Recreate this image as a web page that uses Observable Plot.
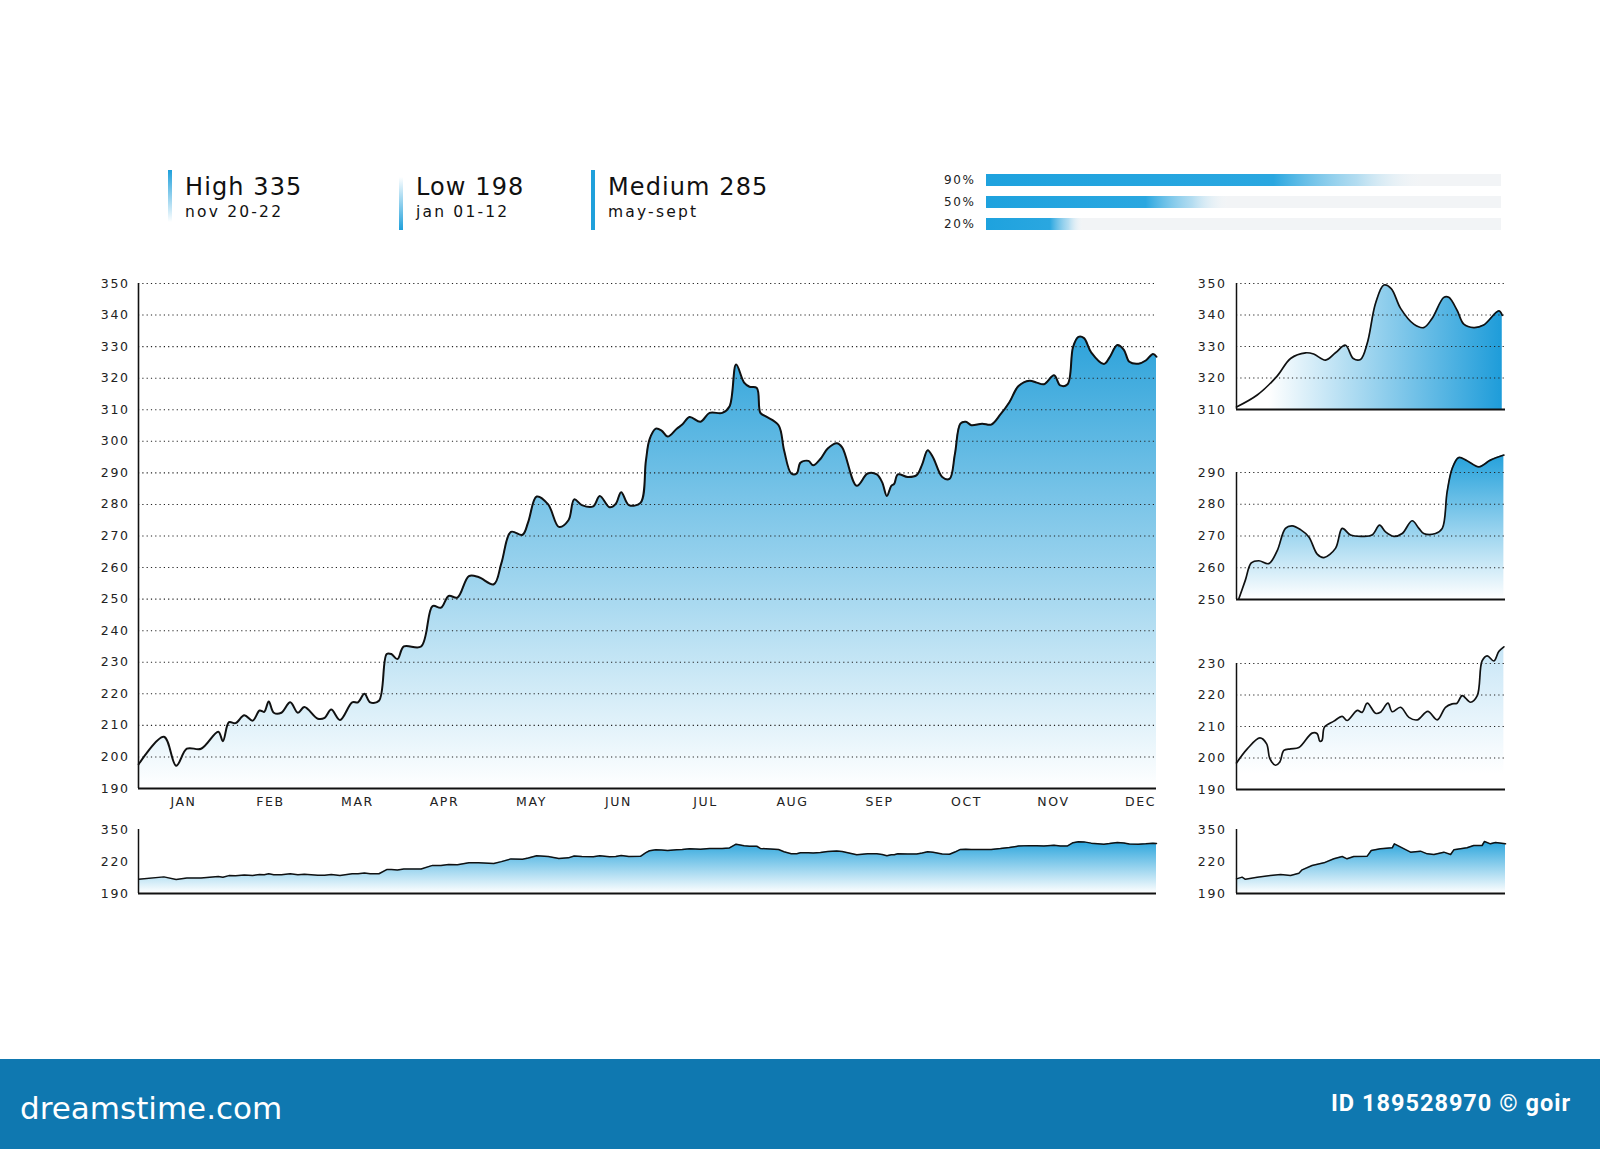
<!DOCTYPE html>
<html>
<head>
<meta charset="utf-8">
<script src="https://cdn.jsdelivr.net/npm/d3@7"></script>
<script src="https://cdn.jsdelivr.net/npm/@observablehq/plot@0.6"></script>
<style>
  html, body { margin: 0; padding: 0; background: #fff; }
  body { width: 1600px; height: 1149px; position: relative; overflow: hidden; font-family: "DejaVu Sans", sans-serif; }
  .abs { position: absolute; }
  .stat-title { font-size: 24px; line-height: 24px; color: #111; letter-spacing: 1.1px; white-space: nowrap; }
  .stat-sub { font-size: 15.5px; line-height: 15.5px; color: #111; letter-spacing: 2.2px; white-space: nowrap; }
  .accent { width: 3.5px; }
  #footer { left: 0; top: 1059px; width: 1600px; height: 90px; background: #0f78b0; }
  #brand { left: 20px; top: 1093px; font-size: 31px; line-height: 31px; color: #fff; }
  #credit { right: 29px; top: 1092px; font-family: Roboto, sans-serif; font-weight: 700; font-size: 23.5px; line-height: 23.5px; letter-spacing: 1px; color: #fff; }
</style>
</head>
<body>
<script>
// ---------- data ----------
const months = ["JAN","FEB","MAR","APR","MAY","JUN","JUL","AUG","SEP","OCT","NOV","DEC"];
const mainTicks = [190,200,210,220,230,240,250,260,270,280,290,300,310,320,330,340,350];

// main series: position in month units (0 = JAN label) and value
const mainMonth = [-0.515,-0.225,-0.084,0.039,0.202,0.40,0.453,0.523,0.598,0.699,
0.795,0.875,0.928,0.98,1.038,1.125,1.227,1.315,1.39,1.544,
1.623,1.698,1.799,1.939,2.006,2.08,2.146,2.247,2.336,2.389,
2.459,2.533,2.731,2.863,2.96,3.048,3.149,3.281,3.391,3.567,
3.655,3.764,3.897,3.963,4.06,4.192,4.315,4.425,4.491,4.579,
4.71,4.785,4.898,4.969,5.031,5.119,5.253,5.315,5.357,5.429,
5.495,5.566,5.670,5.733,5.817,5.943,6.047,6.193,6.276,6.352,
6.444,6.506,6.590,6.631,6.694,6.840,6.903,6.986,7.049,7.091,
7.183,7.238,7.321,7.405,7.509,7.571,7.739,7.864,7.969,8.031,
8.085,8.136,8.169,8.211,8.324,8.428,8.491,8.554,8.616,8.721,
8.805,8.867,8.930,8.992,9.055,9.180,9.285,9.390,9.493,9.598,
9.723,9.807,9.891,10.007,10.078,10.162,10.225,10.287,10.351,10.433,
10.580,10.643,10.734,10.809,10.872,10.977,11.061,11.144,11.184];
const mainValue = [197.7,206.4,197.2,202.6,202.6,208,205,211,210.7,213.2,
211.5,214.7,214.3,217.6,214,214,217.3,214,215.8,212.1,
212.4,215,211.7,217.3,217.3,220,217.3,217.8,232.6,232.6,
231,235,235,247.8,247.3,251,250.5,257.3,257,254.7,
261.5,271.3,270.4,274.5,282.5,280,272.9,275,281.6,279.8,
279.4,282.7,279.1,280.2,283.9,279.8,280.5,293.8,300.6,304,
303.4,301.5,304,305.3,307.7,306.2,309,309,311,324.3,
318.6,317.3,316.9,309,307.9,305.1,297.2,289.8,289.8,293.2,
293.8,292.4,294.4,297.7,299.4,298.1,285.9,289.8,289.5,287,
282.7,285.9,286.5,289.5,288.7,289.3,292.7,297.2,294.9,288.7,
288.1,296,305.6,306.2,305.1,305.6,305.3,308.5,312.4,317.5,
319.2,318.6,318.1,320.9,317.7,318.1,329.9,333.1,332.7,328.2,
324.5,326.5,330.5,329,325.2,324.6,325.6,327.7,326.8];
const mainXDomain = [-0.517, 11.184];
const mainYDomain = [190, 350];

// overview strips (compressed scale, decorative tick labels)
const overviewDomain = [146.4, 377.4];
const overviewTickLabels = ["190","220","350"];

// small charts: x position 0..100 across the panel
const mini1X = [0,7.7,15.1,20.1,25.7,28.7,33.1,36.8,40.5,43.4,46.1,48.6,51.7,54.8,57.5,61,65.9,69.6,72.7,77.1,78.9,82,84.5,88.2,91.9,97.5,98.8];
const mini1V = [310.8,314.6,320.6,326.2,328,327.6,325.7,328,330.4,326.2,325.9,331,343.7,349.5,348.4,342.1,337.1,336,338.9,345.6,345.6,341.5,337.1,336,336.8,341.3,339.9];
const mini1Ticks = [310,320,330,340,350];

const mini2X = [0.9,3.3,5.5,8.3,12,15.1,18.2,20.7,23.8,26.9,30,32.5,36.8,39.3,42.4,46.7,50.4,53.2,55.4,58.5,61.6,65.3,67.8,69.6,74,76.5,78.3,80.2,82.6,85.7,90.1,94.4,99.4];
const mini2V = [250.3,256.1,261.5,262.2,261.3,265.3,272.4,273.2,272,269.7,264.3,263.2,266.1,272.4,270.3,269.9,270.3,273.4,271.3,269.9,270.8,274.8,272.4,270.8,270.8,272.4,283.9,291.3,294.7,293.7,291.8,293.9,295.5];
const mini2Ticks = [250,260,270,280,290];

const mini3X = [0,4,8.7,11.2,12.4,14.5,16.1,17.6,20.1,23.2,28.1,30,31,31.8,32.7,36.2,39.3,41.1,44.9,46.7,48.6,51.7,53.5,56.3,57.9,61,64.1,67.2,71.1,74.6,77.7,80.2,82,83.9,87,89.5,91.3,93.2,95.7,97.5,99.4];
const mini3V = [198.4,202.9,206.4,204.5,199.8,197.7,198.7,202.4,202.9,203.3,207.9,207.7,205.3,205.6,209.8,211.7,213.2,211.9,215.1,214.5,217.4,214.2,214.5,217.4,214.7,216.1,212.9,212.1,214.8,212.1,216.1,217.2,217.4,219.8,217.7,219.8,230.8,232.4,230.8,233.8,235.3];
const mini3Ticks = [190,200,210,220,230];

const mini4X = [0,2.1,3.3,7.7,12.6,16.4,20.1,23.2,24.4,28.1,32.5,36.2,39.3,41.1,43.6,48.6,50.1,53.5,57.9,58.7,61.6,64.7,68.4,70.9,73.4,77.1,79.6,80.8,85.7,88.2,91.3,92.2,94.4,96.3,100];
const mini4V = [199.3,205.4,197.7,205.4,211.4,215,211.4,219.8,231.8,247.5,257.1,271.6,280,271.6,280,281.2,301.6,307.7,311.3,325.7,311.3,295.6,299.2,289.6,287.2,295.6,287.2,304,311.3,319.7,319.7,334.1,325.7,330.5,325.7];
const miniXDomain = [0, 100];

// header stats and progress bars
const statTitles = ["High 335", "Low 198", "Medium 285"];
const statSubs = ["nov 20-22", "jan 01-12", "may-sept"];
const barLabels = ["90%", "50%", "20%"];
const barValues = [90, 50, 20];

// ---------- helpers ----------
const NS = "http://www.w3.org/2000/svg";
const BLUE = "#1fa0db";
function addGradient(svg, id, coords, stops, userSpace = true) {
  let defs = svg.querySelector("defs");
  if (!defs) { defs = document.createElementNS(NS, "defs"); svg.insertBefore(defs, svg.firstChild); }
  const g = document.createElementNS(NS, "linearGradient");
  g.setAttribute("id", id);
  if (userSpace) g.setAttribute("gradientUnits", "userSpaceOnUse");
  for (const k of ["x1","y1","x2","y2"]) g.setAttribute(k, coords[k]);
  for (const [o, c, op] of stops) {
    const s = document.createElementNS(NS, "stop");
    s.setAttribute("offset", o);
    s.setAttribute("stop-color", c);
    if (op != null) s.setAttribute("stop-opacity", op);
    g.appendChild(s);
  }
  defs.appendChild(g);
}
function place(el, left, top) {
  el.style.position = "absolute";
  el.style.left = left + "px";
  el.style.top = top + "px";
  document.body.appendChild(el);
}
const axisStyle = {fontFamily: "DejaVu Sans, sans-serif", fontSize: "12.5px", color: "#222", background: "transparent", letterSpacing: "1.6px", overflow: "visible"};
const gridOpts = {stroke: "#222", strokeOpacity: 1, strokeWidth: 1.1, strokeDasharray: "1.2,3.1"};

// ---------- header ----------
const statX = [168, 399, 591];
const accentCss = [
  {top: 170, h: 52, bg: `linear-gradient(to bottom, ${BLUE}, rgba(31,160,219,0))`},
  {top: 177, h: 53, bg: `linear-gradient(to bottom, rgba(31,160,219,0), ${BLUE})`},
  {top: 170, h: 60, bg: BLUE}
];
statTitles.forEach((t, i) => {
  const a = document.createElement("div");
  a.className = "accent";
  a.style.height = accentCss[i].h + "px";
  a.style.background = accentCss[i].bg;
  place(a, statX[i], accentCss[i].top);
  const tt = document.createElement("div");
  tt.className = "stat-title"; tt.textContent = t;
  place(tt, statX[i] + 17, 175);
  const st = document.createElement("div");
  st.className = "stat-sub"; st.textContent = statSubs[i];
  place(st, statX[i] + 17, 205);
});

// ---------- progress bars ----------
{
  const data = barLabels.map((l, i) => ({label: l, value: barValues[i]}));
  const svg = Plot.plot({
    width: 620, height: 100,
    marginLeft: 86, marginRight: 19, marginTop: 13.6, marginBottom: 10.5,
    style: {...axisStyle, fontSize: "12px", letterSpacing: "1.6px"},
    x: {domain: [0, 100], axis: null},
    y: {domain: barLabels, padding: 0.45, tickSize: 0, tickPadding: 11, label: null},
    marks: [
      Plot.barX(data, {x1: 0, x2: 100, y: "label", fill: "#f2f4f6"}),
      Plot.barX(data, {x1: 0, x2: "value", y: "label", fill: "url(#gBar)"})
    ]
  });
  addGradient(svg, "gBar", {x1: 0, y1: 0, x2: 1, y2: 0},
    [[0, "#1ea2de"], [0.62, "#2aa7e0"], [0.8, "#7fc9ec", 0.55], [0.95, "#ffffff", 0]], false);
  place(svg, 900, 150);
}

// ---------- main chart ----------
const mainData = mainMonth.map((m, i) => ({m, v: mainValue[i]}));
{
  const svg = Plot.plot({
    width: 1110, height: 555,
    marginLeft: 78, marginRight: 14, marginTop: 13, marginBottom: 37,
    style: axisStyle,
    x: {domain: mainXDomain, ticks: months.map((d, i) => i), tickFormat: i => months[i], tickSize: 0, tickPadding: 9, label: null},
    y: {domain: mainYDomain, ticks: mainTicks, tickSize: 0, tickPadding: 9, label: null},
    marks: [
      Plot.areaY(mainData, {x: "m", y1: mainYDomain[0], y2: "v", curve: "catmull-rom", fill: "url(#gMain)"}),
      Plot.ruleY(mainTicks.filter(t => t > mainYDomain[0]), gridOpts),
      Plot.lineY(mainData, {x: "m", y: "v", curve: "catmull-rom", stroke: "#111", strokeWidth: 2}),
      Plot.ruleY([mainYDomain[0]], {stroke: "#111", strokeWidth: 2}),
      Plot.ruleX([mainXDomain[0]], {y1: mainYDomain[0], y2: mainYDomain[1], stroke: "#111", strokeWidth: 1.6})
    ]
  });
  const ys = svg.scale("y");
  addGradient(svg, "gMain", {x1: 0, x2: 0, y1: ys.apply(350), y2: ys.apply(190)},
    [[0, "#1598d6"], [1, "#ffffff"]]);
  place(svg, 60, 270);
}

// ---------- overview strips ----------
const ovTicks = [overviewDomain[0], (overviewDomain[0] + overviewDomain[1]) / 2, overviewDomain[1]];
function overview(data, xKey, yKey, xDomain, opts) {
  const svg = Plot.plot({
    width: opts.width, height: 90,
    marginLeft: opts.marginLeft, marginRight: opts.marginRight, marginTop: 14, marginBottom: 12,
    style: axisStyle,
    x: {domain: xDomain, axis: null},
    y: {domain: overviewDomain, ticks: ovTicks, tickFormat: (d, i) => overviewTickLabels[ovTicks.indexOf(d)], tickSize: 0, tickPadding: opts.tickPadding, label: null},
    marks: [
      Plot.areaY(data, {x: xKey, y1: overviewDomain[0], y2: yKey, curve: "linear", fill: `url(#${opts.id})`}),
      Plot.lineY(data, {x: xKey, y: yKey, curve: "linear", stroke: "#111", strokeWidth: 1.5}),
      Plot.ruleY([overviewDomain[0]], {stroke: "#111", strokeWidth: 1.8}),
      Plot.ruleX([xDomain[0]], {y1: overviewDomain[0], y2: overviewDomain[1], stroke: "#111", strokeWidth: 1.5})
    ]
  });
  const ys = svg.scale("y");
  addGradient(svg, opts.id, {x1: 0, x2: 0, y1: ys.apply(335), y2: ys.apply(overviewDomain[0])},
    [[0, "#28a4dc"], [1, "#ffffff"]]);
  place(svg, opts.left, 815);
}
overview(mainData, "m", "v", mainXDomain, {width: 1110, marginLeft: 78, marginRight: 14, tickPadding: 9, id: "gOv1", left: 60});
const mini4Data = mini4X.map((x, i) => ({x, v: mini4V[i]}));
overview(mini4Data, "x", "v", miniXDomain, {width: 340, marginLeft: 56, marginRight: 15, tickPadding: 10, id: "gOv2", left: 1180});

// ---------- small charts ----------
function mini(xs, vs, ticks, opts) {
  const data = xs.map((x, i) => ({x, v: vs[i]}));
  const dom = [ticks[0], ticks[ticks.length - 1]];
  const svg = Plot.plot({
    width: 340, height: opts.height,
    marginLeft: 56, marginRight: 15, marginTop: opts.marginTop, marginBottom: 11,
    style: axisStyle,
    x: {domain: miniXDomain, axis: null},
    y: {domain: dom, ticks, tickSize: 0, tickPadding: 10, label: null},
    marks: [
      Plot.areaY(data, {x: "x", y1: dom[0], y2: "v", curve: "catmull-rom", fill: `url(#${opts.id})`}),
      Plot.ruleY(ticks.filter(t => t > dom[0]), gridOpts),
      Plot.lineY(data, {x: "x", y: "v", curve: "catmull-rom", stroke: "#111", strokeWidth: 1.7}),
      Plot.ruleY([dom[0]], {stroke: "#111", strokeWidth: 1.8}),
      Plot.ruleX([miniXDomain[0]], {y1: dom[0], y2: dom[1], stroke: "#111", strokeWidth: 1.5})
    ]
  });
  const xsc = svg.scale("x"), ysc = svg.scale("y");
  opts.grad(svg, xsc, ysc);
  place(svg, 1180, opts.top);
}
mini(mini1X, mini1V, mini1Ticks, {top: 270, height: 150, marginTop: 13, id: "gM1",
  grad: (svg, xs, ys) => addGradient(svg, "gM1", {x1: xs.apply(0), x2: xs.apply(100), y1: 0, y2: 0},
    [[0, "#ffffff"], [0.12, "#ffffff"], [1, "#1b9bd9"]])});
mini(mini2X, mini2V, mini2Ticks, {top: 440, height: 170, marginTop: 32, id: "gM2",
  grad: (svg, xs, ys) => addGradient(svg, "gM2", {x1: 0, x2: 0, y1: ys.apply(296), y2: ys.apply(250)},
    [[0, "#22a0db"], [1, "#ffffff"]])});
mini(mini3X, mini3V, mini3Ticks, {top: 630, height: 170, marginTop: 33, id: "gM3",
  grad: (svg, xs, ys) => addGradient(svg, "gM3", {x1: 0, x2: 0, y1: ys.apply(236), y2: ys.apply(195)},
    [[0, "#c6e5f6"], [1, "#ffffff"]])});

// ---------- footer ----------
const footer = document.createElement("div"); footer.id = "footer"; footer.className = "abs"; document.body.appendChild(footer);
const brand = document.createElement("div"); brand.id = "brand"; brand.className = "abs"; brand.textContent = "dreamstime.com"; document.body.appendChild(brand);
const credit = document.createElement("div"); credit.id = "credit"; credit.className = "abs"; credit.textContent = "ID 189528970 © goir"; document.body.appendChild(credit);
</script>
</body>
</html>
